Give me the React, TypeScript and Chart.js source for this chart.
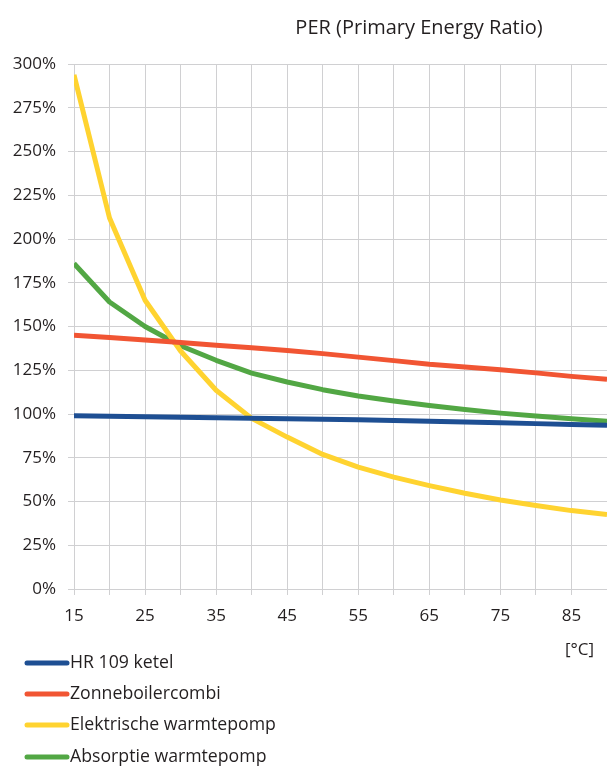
import React, { useEffect, useRef } from "react";
import { Chart, registerables } from "chart.js";

Chart.register(...registerables);

const temps = [15, 20, 25, 30, 35, 40, 45, 50, 55, 60, 65, 70, 75, 80, 85, 90];
const hr109 = [99, 98.7, 98.4, 98.2, 97.9, 97.6, 97.3, 97, 96.7, 96.3, 95.9, 95.4, 95, 94.5, 94, 93.5];
const zonneboiler = [145, 143.7, 142.3, 140.8, 139.3, 137.8, 136.3, 134.5, 132.5, 130.5, 128.4, 126.8, 125.3, 123.5, 121.5, 119.8];
const elektrisch = [293.8, 212, 165, 136, 113.6, 97.5, 86.8, 76.9, 69.6, 63.9, 59.1, 54.7, 50.9, 47.7, 44.8, 42.5];
const absorptie = [186, 164, 150, 139, 130.7, 123.4, 118.3, 113.9, 110.3, 107.4, 104.9, 102.6, 100.5, 98.8, 97.3, 95.8];

const seriesNames = ["HR 109 ketel", "Zonneboilercombi", "Elektrische warmtepomp", "Absorptie warmtepomp"];
const seriesValues = [hr109, zonneboiler, elektrisch, absorptie];
const seriesColors = ["#1E4F93", "#F15533", "#FFD330", "#52A744"];

const titleText = "PER (Primary Energy Ratio)";
const unitText = "[°C]";
const FONT = "'Open Sans', 'Noto Sans', sans-serif";
const TEXT_COLOR = "#231F20";
const GRID_COLOR = "#D0D0D2";

const overlayPlugin = {
  id: "overlay",
  afterDraw(chart: any) {
    const ctx = chart.ctx;
    ctx.save();
    ctx.fillStyle = TEXT_COLOR;
    ctx.textBaseline = "middle";
    ctx.font = `20px ${FONT}`;
    ctx.textAlign = "center";
    ctx.fillText(titleText, 419, 28);
    ctx.font = `17px ${FONT}`;
    ctx.textAlign = "left";
    ctx.fillText(unitText, 565, 650);
    const rows = [663, 694, 725, 757];
    seriesNames.forEach((name, i) => {
      ctx.strokeStyle = seriesColors[i];
      ctx.lineWidth = 5;
      ctx.lineCap = "round";
      ctx.beginPath();
      ctx.moveTo(27, rows[i]);
      ctx.lineTo(67, rows[i]);
      ctx.stroke();
      ctx.font = `17.7px ${FONT}`;
      ctx.fillText(name, 70, rows[i]);
    });
    ctx.restore();
  },
};

export default function App() {
  const ref = useRef<HTMLCanvasElement>(null);
  useEffect(() => {
    if (!ref.current) return;
    const chart = new Chart(ref.current, {
      type: "line",
      data: {
        datasets: seriesNames.map((name, i) => ({
          label: name,
          data: temps.map((t, j) => ({ x: t, y: seriesValues[i][j] })),
          borderColor: seriesColors[i],
          backgroundColor: seriesColors[i],
          borderWidth: 5,
          pointRadius: 0,
          tension: 0,
          borderJoinStyle: "round" as const,
        })),
      },
      options: {
        animation: false,
        responsive: false,
        maintainAspectRatio: false,
        layout: { padding: { top: 64, right: 0, bottom: 0, left: 0 } },
        plugins: {
          legend: { display: false },
          tooltip: { enabled: false },
          title: { display: false },
        },
        scales: {
          x: {
            type: "linear",
            min: 15,
            max: 90,
            afterFit: (s: any) => {
              s.height = 178;
              s.paddingRight = 0;
              s.paddingLeft = 0;
            },
            ticks: {
              stepSize: 5,
              autoSkip: false,
              maxRotation: 0,
              padding: 11,
              color: TEXT_COLOR,
              font: { family: FONT, size: 17 },
              callback: (v: any) => ((v - 15) % 10 === 0 && v < 90 ? String(v) : ""),
            },
            grid: { color: GRID_COLOR, lineWidth: 1, tickLength: 6, drawTicks: true },
            border: { color: GRID_COLOR },
          },
          y: {
            min: 0,
            max: 300,
            afterFit: (s: any) => {
              s.width = 74;
              s.paddingTop = 0;
              s.paddingBottom = 0;
            },
            ticks: {
              stepSize: 25,
              padding: 12,
              color: TEXT_COLOR,
              font: { family: FONT, size: 17 },
              callback: (v: any) => `${v}%`,
            },
            grid: { color: GRID_COLOR, lineWidth: 1, tickLength: 6 },
            border: { color: GRID_COLOR },
          },
        },
      },
      plugins: [overlayPlugin],
    });
    return () => chart.destroy();
  }, []);
  return (
    <div style={{ position: "fixed", left: 0, top: 0, width: 607, height: 767, background: "#fff" }}>
      <canvas ref={ref} width={607} height={767} style={{ width: 607, height: 767 }} />
    </div>
  );
}
